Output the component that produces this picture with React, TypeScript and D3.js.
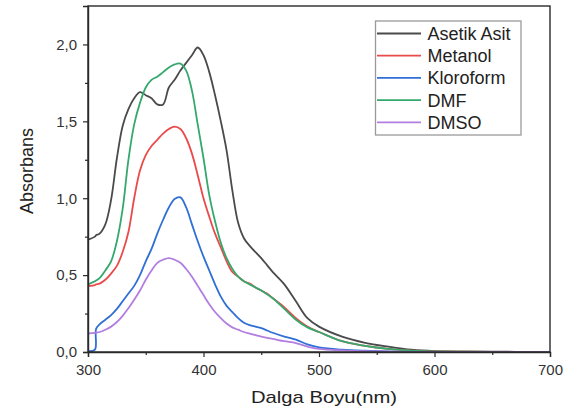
import React, { useEffect, useRef } from 'react'
import * as d3 from 'd3'

// wavelength grid (nm)
const wavelengths = [
  300, 306, 307, 310, 315, 320, 325, 330, 335, 340, 345, 350, 355, 360, 365, 370, 375, 380, 385, 390,
  395, 400, 405, 410, 415, 420, 425, 430, 435, 440, 445, 450, 455, 460, 470, 480, 490, 500, 520, 540,
  560, 580, 600, 650, 700,
]

const asetikAsit = [
  0.73, 0.75, 0.76, 0.77, 0.83, 0.99, 1.26, 1.47, 1.58, 1.65, 1.69, 1.67, 1.65, 1.61, 1.61, 1.72, 1.77, 1.83, 1.88, 1.93,
  1.98, 1.93, 1.82, 1.67, 1.5, 1.31, 1.05, 0.84, 0.74, 0.69, 0.65, 0.61, 0.565, 0.52, 0.44, 0.33, 0.22, 0.165, 0.1, 0.06,
  0.035, 0.015, 0.006, 0.002, 0.001,
]

const metanol = [
  0.43, 0.435, 0.44, 0.445, 0.47, 0.51, 0.56, 0.65, 0.78, 1.0, 1.18, 1.28, 1.34, 1.38, 1.42, 1.45, 1.465, 1.45, 1.39, 1.29,
  1.15, 1.0, 0.88, 0.77, 0.68, 0.59, 0.52, 0.49, 0.46, 0.445, 0.42, 0.4, 0.38, 0.35, 0.29, 0.22, 0.165, 0.13, 0.07, 0.04,
  0.02, 0.008, 0.004, 0.001, 0,
]

const kloroform = [
  0.005, 0.015, 0.15, 0.18, 0.21, 0.24, 0.28, 0.33, 0.38, 0.43, 0.5, 0.59, 0.67, 0.77, 0.86, 0.94, 0.995, 1.005, 0.94, 0.83,
  0.72, 0.62, 0.53, 0.44, 0.36, 0.3, 0.26, 0.22, 0.19, 0.175, 0.165, 0.155, 0.14, 0.125, 0.1, 0.08, 0.05, 0.03, 0.015, 0.008,
  0.004, 0.002, 0.001, 0, 0,
]

const dmf = [
  0.44, 0.46, 0.465, 0.48, 0.53, 0.59, 0.72, 0.93, 1.25, 1.48, 1.62, 1.72, 1.77, 1.79, 1.82, 1.85, 1.87, 1.875, 1.83, 1.7,
  1.48, 1.26, 1.02, 0.85, 0.71, 0.61, 0.54, 0.49, 0.46, 0.44, 0.42, 0.4, 0.375, 0.35, 0.28, 0.21, 0.16, 0.13, 0.07, 0.04,
  0.02, 0.008, 0.004, 0.001, 0,
]

const dmso = [
  0.12, 0.125, 0.126, 0.13, 0.145, 0.165, 0.195, 0.235, 0.285, 0.34, 0.4, 0.47, 0.53, 0.58, 0.6, 0.61, 0.6, 0.58, 0.54, 0.49,
  0.43, 0.37, 0.31, 0.26, 0.22, 0.185, 0.16, 0.145, 0.13, 0.12, 0.11, 0.1, 0.092, 0.085, 0.07, 0.058, 0.035, 0.02, 0.01, 0.005,
  0.003, 0.001, 0, 0, 0,
]

const seriesNames = ['Asetik Asit', 'Metanol', 'Kloroform', 'DMF', 'DMSO']
const seriesValues = [asetikAsit, metanol, kloroform, dmf, dmso]
const seriesColors = ['#4a4a4a', '#ea4a4a', '#2f6fd6', '#35a86e', '#b27ee0']

const xTicks = [300, 400, 500, 600, 700]
const yTicks = [0, 0.5, 1.0, 1.5, 2.0]

const W = 579
const H = 412

export default function App() {
  const ref = useRef<SVGSVGElement>(null)

  useEffect(() => {
    const svg = d3.select(ref.current)
    svg.selectAll('*').remove()

    const left = 88
    const right = 550
    const top = 6
    const bottom = 352

    const x = d3.scaleLinear().domain([300, 700]).range([left, right])
    const y = d3.scaleLinear().domain([0, 2.25]).range([bottom, top])

    const font = 'Arial, "Liberation Sans", sans-serif'
    const axisColor = '#2a2a2a'

    // curves
    const line = d3.line<number>()
      .x((_, i) => x(wavelengths[i]))
      .y((d) => y(d))
      .curve(d3.curveCatmullRom.alpha(0.5))

    const g = svg.append('g')
    seriesValues.forEach((vals, i) => {
      g.append('path')
        .attr('d', line(vals))
        .attr('fill', 'none')
        .attr('stroke', seriesColors[i])
        .attr('stroke-width', 1.8)
        .attr('stroke-linejoin', 'round')
    })

    // frame
    svg.append('rect')
      .attr('x', left).attr('y', top)
      .attr('width', right - left).attr('height', bottom - top)
      .attr('fill', 'none').attr('stroke', axisColor).attr('stroke-width', 1.4)

    // x axis
    const xAxis = d3.axisBottom(x).tickValues(xTicks).tickSize(5).tickPadding(7).tickFormat(d3.format('d'))
    const xg = svg.append('g').attr('transform', `translate(0,${bottom})`).call(xAxis)
    const xMinor = d3.axisBottom(x).tickValues([350, 450, 550, 650]).tickSize(3).tickFormat(() => '')
    svg.append('g').attr('transform', `translate(0,${bottom})`).call(xMinor).select('.domain').remove()

    // y axis
    const fmt = (d: number) => d3.format('.1f')(d).replace('.', ',')
    const yAxis = d3.axisLeft(y).tickValues(yTicks).tickSize(5).tickPadding(6).tickFormat((d) => fmt(+d))
    const yg = svg.append('g').attr('transform', `translate(${left},0)`).call(yAxis)
    const yMinor = d3.axisLeft(y).tickValues([0.25, 0.75, 1.25, 1.75]).tickSize(3).tickFormat(() => '')
    svg.append('g').attr('transform', `translate(${left},0)`).call(yMinor).select('.domain').remove()

    svg.selectAll('.domain').attr('stroke', axisColor).attr('stroke-width', 1.4)
    svg.selectAll('.tick line').attr('stroke', axisColor).attr('stroke-width', 1.2)
    ;[xg, yg].forEach((a) => a.selectAll('.tick text')
      .attr('font-family', font).attr('font-size', 15).attr('fill', '#333'))

    // axis titles
    svg.append('text')
      .attr('x', (left + right) / 2 + 5).attr('y', 403)
      .attr('text-anchor', 'middle')
      .attr('font-family', font).attr('font-size', 17).attr('fill', '#222')
      .attr('textLength', 146).attr('lengthAdjust', 'spacingAndGlyphs')
      .text('Dalga Boyu(nm)')

    svg.append('text')
      .attr('transform', `translate(33,${(top + bottom) / 2 - 8}) rotate(-90)`)
      .attr('text-anchor', 'middle')
      .attr('font-family', font).attr('font-size', 18).attr('fill', '#222')
      .text('Absorbans')

    // legend
    const lg = svg.append('g')
    lg.append('rect')
      .attr('x', 375.5).attr('y', 21)
      .attr('width', 145.5).attr('height', 114)
      .attr('fill', '#fff').attr('stroke', '#9a9a9a').attr('stroke-width', 1.3)
    seriesNames.forEach((name, i) => {
      const yy = 33.5 + i * 22.2
      lg.append('line')
        .attr('x1', 377).attr('x2', 421).attr('y1', yy).attr('y2', yy)
        .attr('stroke', seriesColors[i]).attr('stroke-width', 1.8)
      lg.append('text')
        .attr('x', 427.5).attr('y', yy)
        .attr('dy', '0.36em')
        .attr('font-family', font).attr('font-size', 18).attr('fill', '#222')
        .text(name)
    })
  }, [])

  return (
    <svg
      ref={ref}
      width={W}
      height={H}
      style={{ position: 'fixed', left: 0, top: 0, background: '#fff' }}
    />
  )
}
